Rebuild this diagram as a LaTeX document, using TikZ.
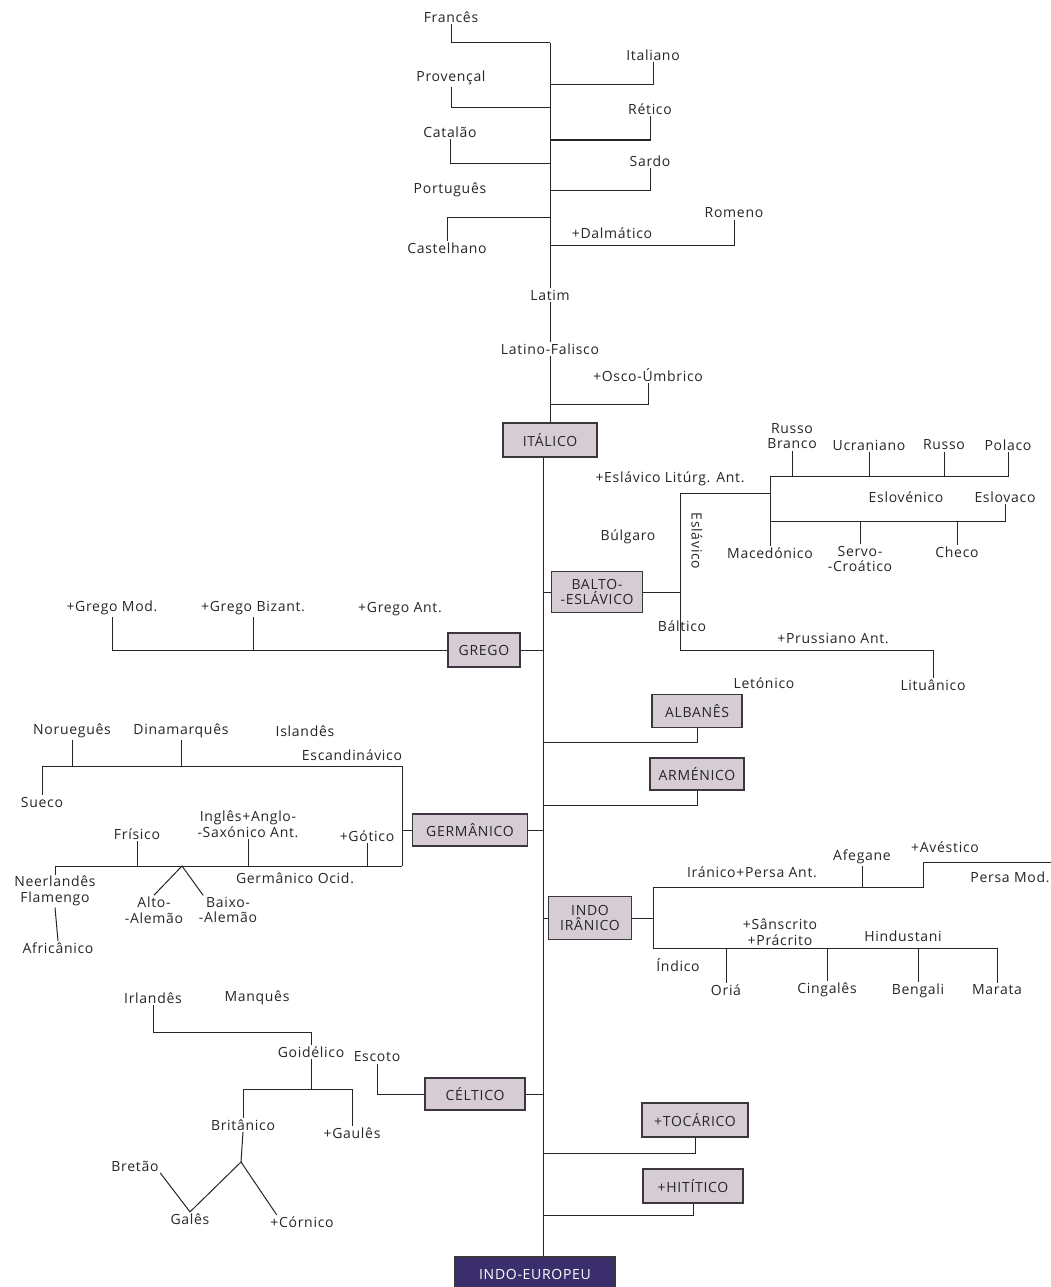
\documentclass[tikz,border=0pt]{standalone}
\usepackage{fontspec}
\setmainfont{Open Sans}[LetterSpace=5]
\usepackage{xcolor}
\usepackage{tikz}
\usetikzlibrary{positioning, calc}

\definecolor{boxfill}{RGB}{214,205,212}
\definecolor{boxedge}{RGB}{60,55,62}
\definecolor{rootfill}{RGB}{58,47,108}

\begin{document}
\begin{tikzpicture}[x=1pt, y=-1pt,
    lang/.style={inner sep=1.5pt, align=center, text=black!85, font=\fontsize{14}{15.5}\selectfont},
    family/.style={draw=boxedge, fill=boxfill, line width=1.2pt, inner sep=0pt, align=center,
                   text=black!85, font=\fontsize{14}{15}\selectfont},
    branch/.style={draw=black!85, line width=1pt}]

    \fill[white] (0,0) rectangle (1051,1287);
    \useasboundingbox (0,0) rectangle (1051,1287);

    % --- Italic branch ---
    \node[lang] (fra) at (451,17) {Francês};
    \node[lang] (ita) at (653,55) {Italiano};
    \node[lang] (pro) at (451,78) {Provençal};
    \node[lang] (ret) at (650,109) {Rético};
    \node[lang] (cat) at (450,132) {Catalão};
    \node[lang] (sar) at (650,161) {Sardo};
    \node[lang] (por) at (450,190) {Português};
    \node[lang] (rmn) at (734,213) {Romeno};
    \node[lang] (dal) at (612,233) {+Dalmático};
    \node[lang] (cas) at (447,248) {Castelhano};
    \node[lang] (lat) at (550,295) {Latim};
    \node[lang] (lfa) at (550,349) {Latino-Falisco};
    \node[lang] (osc) at (648,375) {+Osco-Úmbrico};
    \node[family, minimum width=94pt, minimum height=34pt] (ital) at (550,440) {ITÁLICO};

    % Romance lines joining the Latin trunk
    \coordinate (romtop) at (550,43);
    \draw[branch] (fra.south) |- (romtop);
    \draw[branch] (romtop) -- (romtop |- lat.north);
    \draw[branch] (ita.south) |- (romtop |- 0,85);
    \draw[branch] (pro.south) |- (romtop |- 0,108);
    \draw[branch] (ret.south) |- (romtop |- 0,140);
    \draw[branch] (cat.south) |- (romtop |- 0,163);
    \draw[branch] (sar.south) |- (romtop |- 0,190);
    \draw[branch] (cas.north) |- (romtop |- 0,217);
    \draw[branch] (rmn.south) |- (romtop |- 0,245);
    \draw[branch] (lat.south) -- (lfa.north);
    \draw[branch] (lfa.south) -- (ital.north);
    \draw[branch] (osc.south) |- (lfa.south |- 0,404);

    % --- Main trunk ---
    \coordinate (tk) at (543,0);
    \node[family, fill=rootfill, text=white, minimum width=160pt, minimum height=34pt] (ie) at (535,1274) {INDO-EUROPEU};
    \draw[branch] (ital.south -| tk) -- (ie.north -| tk);

    % --- Balto-Slavic ---
    \node[family, minimum width=91pt, minimum height=41pt] (bal) at (597,592) {BALTO-\\-ESLÁVICO};
    \node[lang] (rbr) at (792,436) {Russo\\Branco};
    \node[lang] (ucr) at (869,445) {Ucraniano};
    \node[lang] (rus) at (944,445) {Russo};
    \node[lang] (pol) at (1008,445) {Polaco};
    \node[lang] (eli) at (670,479) {+Eslávico Litúrg. Ant.};
    \node[lang] (slo) at (906,497) {Eslovénico};
    \node[lang] (esk) at (1005,497) {Eslovaco};
    \node[lang] (bul) at (628,537) {Búlgaro};
    \node[lang, rotate=-90] (esl) at (697,541) {Eslávico};
    \node[lang] (mac) at (770,553) {Macedónico};
    \node[lang] (srv) at (860,559) {Servo-\\-Croático};
    \node[lang] (che) at (957,552) {Checo};
    \node[lang] (blt) at (682,626) {Báltico};
    \node[lang] (pru) at (833,638) {+Prussiano Ant.};
    \node[lang] (let) at (764,683) {Letónico};
    \node[lang] (lit) at (933,685) {Lituânico};

    \coordinate (slv) at (680,493);
    \draw[branch] (bal.west) -- (bal.west -| tk);
    \draw[branch] (bal.east) -- (bal.east -| slv);
    \draw[branch] (slv) -- (slv |- 0,650) -| (lit.north);
    \draw[branch] (slv) -- (slv -| mac.north);
    \draw[branch] (mac.north) -- (mac.north |- 0,476) -| (pol.south);
    \draw[branch] (rbr.south) -- (rbr.south |- 0,476);
    \draw[branch] (ucr.south) -- (ucr.south |- 0,476);
    \draw[branch] (rus.south) -- (rus.south |- 0,476);
    \draw[branch] (mac.north |- 0,521) -| (esk.south);
    \draw[branch] (srv.north) -- (srv.north |- 0,521);
    \draw[branch] (che.north) -- (che.north |- 0,521);

    % --- Greek ---
    \node[lang] (gmo) at (112,608) {+Grego Mod.};
    \node[lang] (gbz) at (253,608) {+Grego Bizant.};
    \node[lang] (gan) at (400,609) {+Grego Ant.};
    \node[family, minimum width=72pt, minimum height=34pt] (gre) at (484,650) {GREGO};
    \draw[branch] (gre.west) -| (gmo.south);
    \draw[branch] (gbz.south) -- (gbz.south |- gre.west);
    \draw[branch] (gre.east) -- (gre.east -| tk);

    % --- Albanian and Armenian ---
    \node[family, minimum width=90pt, minimum height=33pt] (alb) at (697,711) {ALBANÊS};
    \node[family, minimum width=94pt, minimum height=32pt] (arm) at (697,774) {ARMÉNICO};
    \draw[branch] (alb.south) |- (tk |- 0,742);
    \draw[branch] (arm.south) |- (tk |- 0,805);

    % --- Germanic ---
    \node[lang] (nor) at (72,731) {Norueguês};
    \node[lang] (din) at (181,731) {Dinamarquês};
    \node[lang] (isl) at (305,731) {Islandês};
    \node[lang] (scd) at (352,755) {Escandinávico};
    \node[lang] (sue) at (42,802) {Sueco};
    \node[lang] (ing) at (248,824) {Inglês+Anglo-\\-Saxónico Ant.};
    \node[lang] (fri) at (137,834) {Frísico};
    \node[lang] (got) at (367,836) {+Gótico};
    \node[family, minimum width=115pt, minimum height=32pt] (ger) at (470,830) {GERMÂNICO};
    \node[lang] (goc) at (295,878) {Germânico Ocid.};
    \node[lang] (nee) at (55,891) {Neerlandês\\Flamengo};
    \node[lang] (alt) at (154,910) {Alto-\\-Alemão};
    \node[lang] (bai) at (228,910) {Baixo-\\-Alemão};
    \node[lang] (afr) at (58,948) {Africânico};

    \coordinate (gvt) at (402,766);
    \coordinate (gvb) at (402,866);
    \coordinate (wgj) at (182,866);
    \draw[branch] (gvt) -- (gvb);
    \draw[branch] (ger.west) -- (ger.west -| gvt);
    \draw[branch] (ger.east) -- (ger.east -| tk);
    \draw[branch] (sue.north) |- (gvt);
    \draw[branch] (nor.south) -- (nor.south |- gvt);
    \draw[branch] (din.south) -- (din.south |- gvt);
    \draw[branch] (nee.north) |- (gvb);
    \draw[branch] (fri.south) -- (fri.south |- gvb);
    \draw[branch] (ing.south) -- (ing.south |- gvb);
    \draw[branch] (got.south) -- (got.south |- gvb);
    \draw[branch] (alt.north) -- (wgj) -- ([xshift=6pt]bai.north west);
    \draw[branch] (nee.south) -- (afr.north);

    % --- Indo-Iranian ---
    \node[family, minimum width=83pt, minimum height=43pt] (ii) at (590,918) {INDO\\IRÂNICO};
    \node[lang] (ipa) at (752,872) {Iránico+Persa Ant.};
    \node[lang] (afe) at (862,857) {Afegane};
    \node[lang] (ave) at (945,847) {+Avéstico};
    \node[lang] (pmo) at (1010,877) {Persa Mod.};
    \node[lang] (ind) at (678,965) {Índico};
    \node[lang] (san) at (780,932) {+Sânscrito\\+Prácrito};
    \node[lang] (hin) at (903,936) {Hindustani};
    \node[lang] (ori) at (726,990) {Oriá};
    \node[lang] (cin) at (827,990) {Cingalês};
    \node[lang] (ben) at (918,991) {Bengali};
    \node[lang] (mar) at (997,990) {Marata};

    \coordinate (iit) at (653,887);
    \coordinate (iib) at (653,948);
    \coordinate (pmj) at (923,862);
    \coordinate (pme) at (1051,862);
    \draw[branch] (ii.west) -- (ii.west -| tk);
    \draw[branch] (ii.east) -- (ii.east -| iit);
    \draw[branch] (iit) -- (iib);
    \draw[branch] (iit) -| (pmj) -- (pme);
    \draw[branch] (afe.south) -- (afe.south |- iit);
    \draw[branch] (iib) -| (mar.north);
    \draw[branch] (ori.north) -- (ori.north |- iib);
    \draw[branch] (cin.north) -- (cin.north |- iib);
    \draw[branch] (ben.north) -- (ben.north |- iib);

    % --- Celtic ---
    \node[lang] (irl) at (153,998) {Irlandês};
    \node[lang] (man) at (257,998) {Manquês};
    \node[lang] (goi) at (311,1052) {Goidélico};
    \node[lang] (eso) at (377,1057) {Escoto};
    \node[family, minimum width=100pt, minimum height=32pt] (cel) at (475,1094) {CÉLTICO};
    \node[lang] (bri) at (243,1125) {Britânico};
    \node[lang] (gau) at (352,1133) {+Gaulês};
    \node[lang] (bre) at (135,1166) {Bretão};
    \node[lang] (gal) at (190,1219) {Galês};
    \node[lang] (cor) at (302,1222) {+Córnico};

    \coordinate (brj) at (241,1162);
    \draw[branch] (cel.east) -- (cel.east -| tk);
    \draw[branch] (cel.west) -| (eso.south);
    \draw[branch] (irl.south) |- (goi.north |- 0,1032) -- (goi.north);
    \draw[branch] (goi.south) -- (goi.south |- 0,1089);
    \draw[branch] (bri.north) |- (gau.north |- 0,1089) -- (gau.north);
    \draw[branch] (bri.south) -- (brj);
    \draw[branch] (bre.south east) -- (gal.north) -- (brj) -- ([xshift=8pt]cor.north west);

    % --- Tocharian and Hittite ---
    \node[family, minimum width=106pt, minimum height=34pt] (toc) at (695,1120) {+TOCÁRICO};
    \node[family, minimum width=100pt, minimum height=34pt] (hit) at (693,1186) {+HITÍTICO};
    \draw[branch] (toc.south) |- (tk |- 0,1153);
    \draw[branch] (hit.south) |- (tk |- 0,1215);

\end{tikzpicture}
\end{document}
